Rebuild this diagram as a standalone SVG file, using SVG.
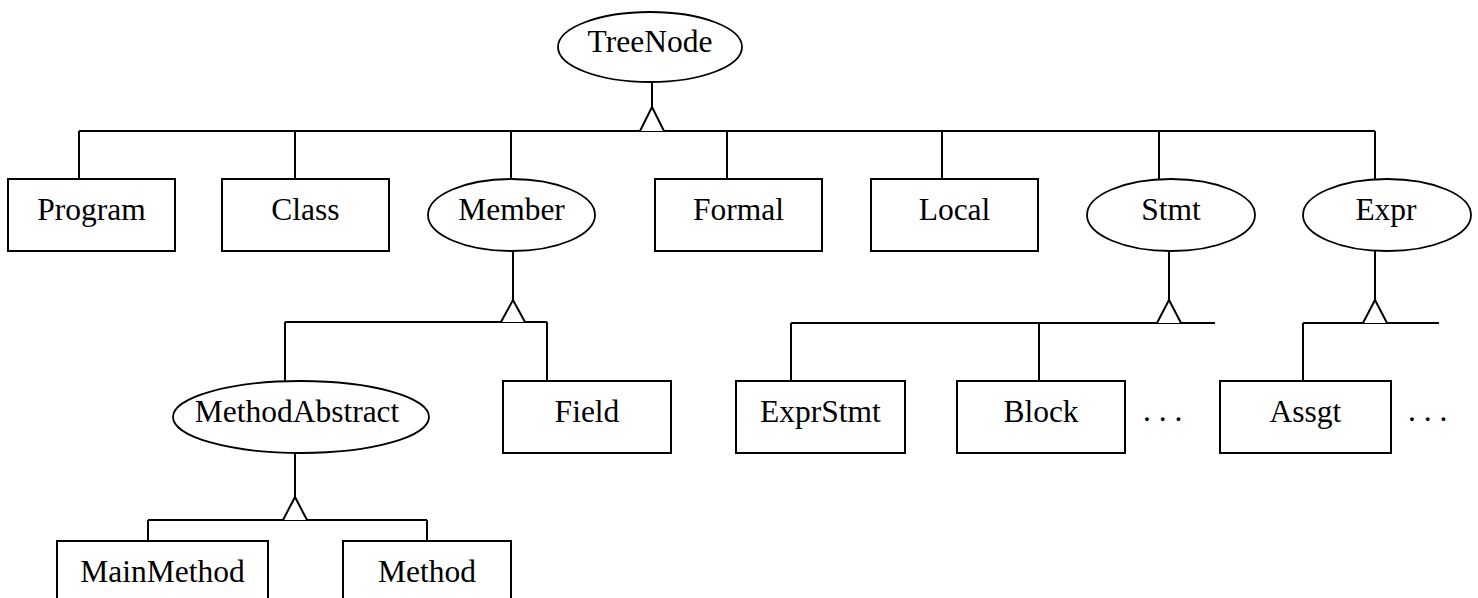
<svg xmlns="http://www.w3.org/2000/svg" width="1478" height="598" viewBox="0 0 1478 598">
<style>
  .box { fill: #fff; stroke: #000; stroke-width: 2; }
  .ell { fill: #fff; stroke: #000; stroke-width: 1.8; }
  .lbl { font-size: 31.5px; fill: #000; text-anchor: middle; }
  .dots { font-size: 31.5px; fill: #000; }
  .ln { fill: none; stroke: #000; stroke-width: 2; }
  .tri { fill: #fff; stroke: #000; stroke-width: 2; stroke-linejoin: miter; }
</style>
<rect width="1478" height="598" fill="#fff"/>
<g id="connectors">
  <path class="ln" d="M652 82 V107"/>
  <path class="ln" d="M79 131 H1375"/>
  <path class="ln" d="M79 131 V179 M295 131 V179 M511 131 V179 M727 131 V179 M942 131 V179 M1159 131 V179 M1375 131 V179"/>
  <path class="tri" d="M640 131 L652 107 L664 131"/>
  <path class="ln" d="M513 251 V300"/>
  <path class="ln" d="M285 322 H547 M285 322 V381 M547 322 V381"/>
  <path class="tri" d="M501 322 L513 300 L525 322"/>
  <path class="ln" d="M1169 251 V300"/>
  <path class="ln" d="M791 323 H1215 M791 323 V381 M1039 323 V381"/>
  <path class="tri" d="M1157 323 L1169 300 L1181 323"/>
  <path class="ln" d="M1375 251 V300"/>
  <path class="ln" d="M1303 323 H1439 M1303 323 V381"/>
  <path class="tri" d="M1363 323 L1375 300 L1387 323"/>
  <path class="ln" d="M295 453 V497"/>
  <path class="ln" d="M148 520 H427 M148 520 V541 M427 520 V541"/>
  <path class="tri" d="M283 520 L295 497 L307 520"/>
</g>
<g font-family="'Liberation Serif', 'DejaVu Serif', serif">
<g id="TreeNode">
  <ellipse class="ell" cx="650" cy="47" rx="92" ry="35"/>
  <text class="lbl" x="650" y="52">TreeNode</text>
</g>
<g id="Program">
  <rect class="box" x="8" y="179" width="167" height="72"/>
  <text class="lbl" x="91.5" y="220">Program</text>
</g>
<g id="Class">
  <rect class="box" x="222" y="179" width="167" height="72"/>
  <text class="lbl" x="305.5" y="220">Class</text>
</g>
<g id="Member">
  <ellipse class="ell" cx="511.5" cy="215" rx="83.5" ry="36"/>
  <text class="lbl" x="511.5" y="220">Member</text>
</g>
<g id="Formal">
  <rect class="box" x="655" y="179" width="167" height="72"/>
  <text class="lbl" x="738.5" y="220">Formal</text>
</g>
<g id="Local">
  <rect class="box" x="871" y="179" width="167" height="72"/>
  <text class="lbl" x="954.5" y="220">Local</text>
</g>
<g id="Stmt">
  <ellipse class="ell" cx="1171" cy="215" rx="84" ry="36"/>
  <text class="lbl" x="1171" y="220">Stmt</text>
</g>
<g id="Expr">
  <ellipse class="ell" cx="1387" cy="215" rx="84" ry="36"/>
  <text class="lbl" x="1386" y="220">Expr</text>
</g>
<g id="MethodAbstract">
  <ellipse class="ell" cx="301" cy="417" rx="128" ry="36"/>
  <text class="lbl" x="297" y="422">MethodAbstract</text>
</g>
<g id="Field">
  <rect class="box" x="503" y="381" width="168" height="72"/>
  <text class="lbl" x="587" y="422">Field</text>
</g>
<g id="ExprStmt">
  <rect class="box" x="736" y="381" width="169" height="72"/>
  <text class="lbl" x="820.5" y="422">ExprStmt</text>
</g>
<g id="Block">
  <rect class="box" x="957" y="381" width="168" height="72"/>
  <text class="lbl" x="1041" y="422">Block</text>
</g>
<g id="StmtMore">
  <text class="dots" x="1143" y="421">. . .</text>
</g>
<g id="Assgt">
  <rect class="box" x="1220" y="381" width="171" height="72"/>
  <text class="lbl" x="1305.5" y="422">Assgt</text>
</g>
<g id="ExprMore">
  <text class="dots" x="1408" y="421">. . .</text>
</g>
<g id="MainMethod">
  <rect class="box" x="57" y="541" width="211" height="72"/>
  <text class="lbl" x="162.5" y="582">MainMethod</text>
</g>
<g id="Method">
  <rect class="box" x="343" y="541" width="168" height="72"/>
  <text class="lbl" x="427" y="582">Method</text>
</g>
</g>
</svg>
